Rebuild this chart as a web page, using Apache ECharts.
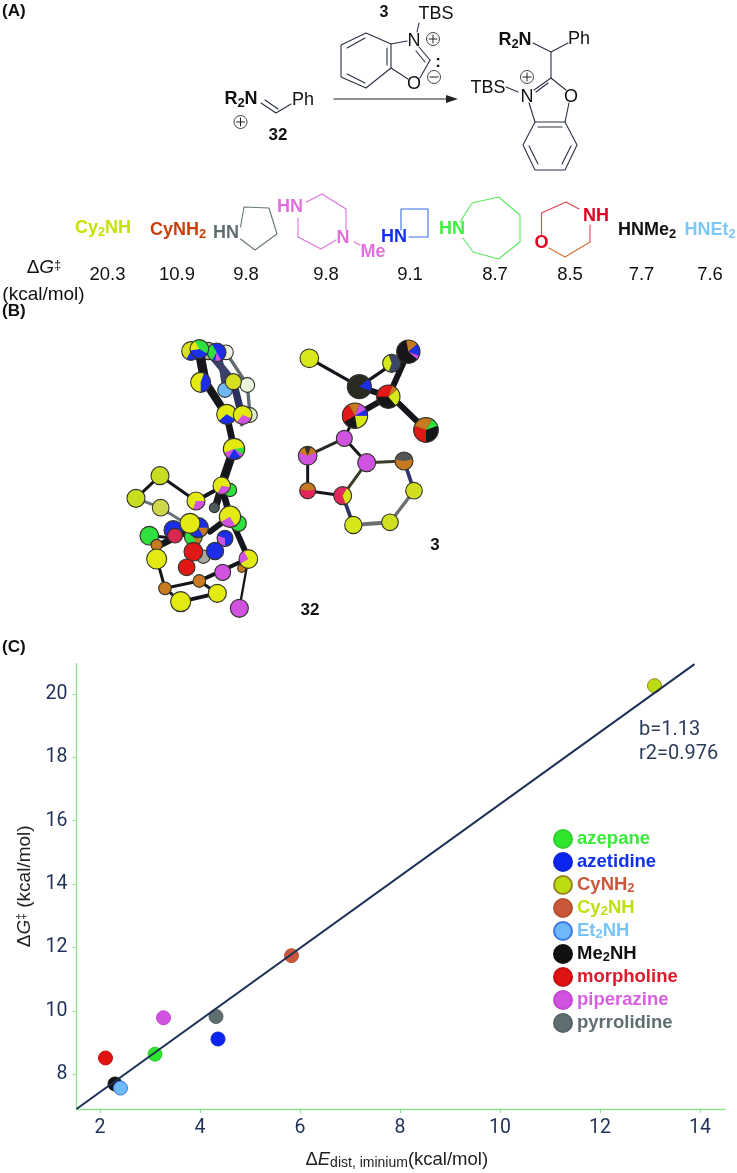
<!DOCTYPE html>
<html>
<head>
<meta charset="utf-8">
<title>Iminium distortion</title>
<script src="https://cdn.jsdelivr.net/npm/echarts@6/dist/echarts.min.js"></script>
<style>
  html, body { margin: 0; padding: 0; background: #fff; }
  #main { width: 737px; height: 1173px; }
</style>
</head>
<body>
<div id="main"></div>
<script>
// scatter data
const amines = ['azepane', 'azetidine', 'CyNH2', 'Cy2NH', 'Et2NH', 'Me2NH', 'morpholine', 'piperazine', 'pyrrolidine'];
const distortion = [3.10, 4.36, 13.09, 5.83, 2.41, 2.30, 2.11, 3.27, 4.32];
const barrier = [8.63, 9.11, 20.26, 11.74, 7.56, 7.69, 8.51, 9.78, 9.82];
const fitX = [1.53, 13.89];
const fitY = [6.90, 20.94];
const xTicks = [2, 4, 6, 8, 10, 12, 14];
const yTicks = [8, 10, 12, 14, 16, 18, 20];

// barrier row in panel A
const rowBarriers = ['20.3', '10.9', '9.8', '9.8', '9.1', '8.7', '8.5', '7.7', '7.6'];

const fillColors = ['#2fe62f', '#0c24f0', '#bcdc12', '#c9583a', '#6cb8f8', '#111111', '#e01212', '#d052e0', '#5f6e70'];
const edgeColors = ['#2fd02f', '#0c24d8', '#9a8420', '#b85030', '#3b78e8', '#111111', '#c81010', '#c048d0', '#556466'];
const legendLabels = [
  '{green|azepane}', '{blue|azetidine}', '{rust|CyNH}{rustSub|2}',
  '{lime|Cy}{limeSub|2}{lime|NH}', '{sky|Et}{skySub|2}{sky|NH}', '{black|Me}{blackSub|2}{black|NH}',
  '{red|morpholine}', '{pink|piperazine}', '{grey|pyrrolidine}'
];

const SANS = '"Liberation Sans", Arial, sans-serif';

function richColor(color) {
  return {color: color, fontFamily: SANS, fontWeight: 'bold', fontSize: 18.5, lineHeight: 20};
}
function richSub(color) {
  return {color: color, fontFamily: SANS, fontWeight: 'bold', fontSize: 13, lineHeight: 20, verticalAlign: 'bottom', padding: [6, 0, 0, 0]};
}
const legendRich = {};
[['green', '#38ea38'], ['blue', '#1030f0'], ['rust', '#c9583a'], ['lime', '#bce010'], ['sky', '#78c4f8'],
  ['black', '#111111'], ['red', '#e01a2a'], ['pink', '#d860e0'], ['grey', '#5f6e70']].forEach(c => {
  legendRich[c[0]] = richColor(c[1]);
  legendRich[c[0] + 'Sub'] = richSub(c[1]);
});

// ---- helpers for the drawn chemistry
let g = [];
function seg(points, color, width) {
  g.push({type: 'polyline', silent: true, shape: {points: points},
    style: {stroke: color || '#2a3040', lineWidth: width || 1.1, fill: null, lineCap: 'round', lineJoin: 'round'}});
}
function txt(x, y, text, size, color, weight, rich, align) {
  g.push({type: 'text', silent: true, x: x, y: y, style: {
    text: text, fontSize: size, fontFamily: SANS, fontWeight: weight || 'normal', fill: color || '#111',
    align: align || 'center', verticalAlign: 'middle', rich: rich
  }});
}
function charge(x, y, sign) {
  g.push({type: 'circle', silent: true, shape: {cx: x, cy: y, r: 6.5}, style: {stroke: '#333', lineWidth: 0.9, fill: '#fff'}});
  seg([[x - 4, y], [x + 4, y]], '#222', 1);
  if (sign === '+') seg([[x, y - 4], [x, y + 4]], '#222', 1);
}
function subRich(color, size, weight) {
  return {
    m: {fontSize: size, fontFamily: SANS, fontWeight: weight, fill: color, color: color, lineHeight: size + 3},
    s: {fontSize: size - 5, fontFamily: SANS, fontWeight: weight, fill: color, color: color, lineHeight: size + 3, verticalAlign: 'bottom'}
  };
}

// ball and stick: atom = [x, y, r, fill, overlays], overlay = [startDeg, endDeg, color]
function sticks(list, conv) {
  list.forEach(b => {
    const p = conv(b[0], b[1]), q = conv(b[2], b[3]);
    g.push({type: 'line', silent: true, shape: {x1: p[0], y1: p[1], x2: q[0], y2: q[1]},
      style: {stroke: b[5] || '#15151c', lineWidth: b[4] / 3 * 1.0, lineCap: 'round'}});
  });
}
function balls(list, conv) {
  list.forEach(a => {
    const p = conv(a[0], a[1]), r = a[2] / 3;
    g.push({type: 'circle', silent: true, shape: {cx: p[0], cy: p[1], r: r}, style: {fill: a[3]}});
    (a[4] || []).forEach(o => {
      g.push({type: 'sector', silent: true, shape: {cx: p[0], cy: p[1], r: r, r0: 0,
        startAngle: o[0] * Math.PI / 180, endAngle: o[1] * Math.PI / 180, clockwise: true}, style: {fill: o[2]}});
    });
    g.push({type: 'circle', silent: true, shape: {cx: p[0], cy: p[1], r: r}, style: {fill: 'none', stroke: '#33332a', lineWidth: 1.1}});
  });
}

// ---- panel letters
txt(2, 11, '(A)', 17, '#111', 'bold', null, 'left');
txt(2, 311, '(B)', 17, '#111', 'bold', null, 'left');
txt(2, 647, '(C)', 17, '#111', 'bold', null, 'left');

// ---- panel A, reaction
txt(384, 13, '3', 16, '#111', 'bold');
txt(436, 14, 'TBS', 18);
seg([[419, 23], [417, 32]]);
txt(414, 41, 'N', 18);
charge(433, 39, '+');
seg([[366, 33], [391, 44], [391, 68], [366, 88], [341, 77], [341, 45], [366, 33]]);
seg([[347, 48], [365, 38]]);
seg([[347, 74], [365, 83]]);
seg([[387, 48], [387, 65]]);
seg([[391, 44], [407, 41]]);
seg([[391, 68], [408, 79]]);
seg([[419, 47], [430, 60]]);
seg([[416, 51], [425, 62]]);
seg([[430, 60], [420, 78]]);
txt(414, 84, 'O', 18);
txt(438, 62, ':', 17, '#111', 'bold');
charge(434, 77, '-');

txt(241, 99, '{m|R}{s|2}{m|N}', 18, '#111', 'bold', subRich('#111', 18, 'bold'));
charge(240.5, 122, '+');
seg([[261, 103], [276, 113], [291, 104]]);
seg([[265, 100], [278, 109]]);
txt(303, 100, 'Ph', 18);
txt(278, 135, '32', 17, '#111', 'bold');

seg([[334, 99], [450, 99]], '#222', 1.2);
g.push({type: 'polygon', silent: true, shape: {points: [[458, 99], [446, 95], [446, 103]]}, style: {fill: '#222'}});

txt(515, 40, '{m|R}{s|2}{m|N}', 18, '#111', 'bold', subRich('#111', 18, 'bold'));
txt(579, 39, 'Ph', 18);
seg([[533, 43], [551, 52], [568, 43]]);
seg([[551, 52], [551, 78]]);
charge(527, 77, '+');
txt(488, 88, 'TBS', 18);
seg([[506, 87], [518, 92]]);
txt(527, 97, 'N', 18);
txt(571, 97, 'O', 18);
seg([[551, 78], [534, 90]]);
seg([[548, 83], [536, 92]]);
seg([[551, 78], [566, 90]]);
seg([[529, 103], [535, 122]]);
seg([[569, 103], [565, 122]]);
seg([[535, 122], [565, 122], [577, 145], [565, 170], [535, 170], [523, 145], [535, 122]]);
seg([[538, 127], [562, 127]]);
seg([[571, 146], [562, 164]]);
seg([[529, 146], [538, 164]]);

// ---- panel A, amine row
txt(103, 228, '{m|Cy}{s|2}{m|NH}', 18, '#c6e000', 'bold', subRich('#c6e000', 18, 'bold'));
txt(178, 230, '{m|CyNH}{s|2}', 18, '#c9400c', 'bold', subRich('#c9400c', 18, 'bold'));

txt(226, 233, 'HN', 18, '#5f6e70', 'bold');
seg([[240.5, 227], [244, 207], [269, 208], [277, 234], [255, 250], [240.5, 239]], '#66767a');

txt(290, 207, 'HN', 18, '#e070e0', 'bold');
txt(343, 238, 'N', 18, '#e070e0', 'bold');
txt(373, 252, 'Me', 18, '#e070e0', 'bold');
seg([[306.5, 202], [322, 194], [346, 209], [346, 230]], '#e070e0');
seg([[336, 240], [321, 249], [298, 237], [298, 218]], '#e070e0');
seg([[354, 242], [360, 245]], '#e070e0');

txt(394, 237, 'HN', 18, '#1030f0', 'bold');
seg([[401, 230], [401, 209], [428, 209], [428, 237], [409, 237]], '#3a70e8');

txt(452, 229, 'HN', 18, '#40ef40', 'bold');
seg([[460, 222], [472, 203], [498.5, 197], [520, 215], [520, 242], [498.5, 259], [473, 252], [463, 238]], '#5ae85a');

txt(596, 216, 'NH', 18, '#e00020', 'bold');
txt(541.5, 243, 'O', 18, '#e00020', 'bold');
seg([[541.5, 235], [541.5, 213], [566, 202], [579, 209]], '#e0404a');
seg([[590, 225], [590, 242]], '#e0404a');
seg([[590, 242], [565, 257], [549, 248]], '#d87030');

txt(647, 230, '{m|HNMe}{s|2}', 18, '#111', 'bold', subRich('#111', 18, 'bold'));
txt(710, 230, '{m|HNEt}{s|2}', 18, '#7cc8f8', 'bold', subRich('#7cc8f8', 18, 'bold'));

const rowCenters = [107.5, 177, 246, 326, 410, 495, 570, 641.5, 710];
rowBarriers.forEach((v, i) => txt(rowCenters[i], 275, v, 18.5, '#111'));
txt(44, 268, '{r|Δ}{i|G}{u|‡}', 19, '#111', 'normal', {
  r: {fontSize: 19, fontFamily: SANS, color: '#333'},
  i: {fontSize: 19, fontFamily: SANS, fontStyle: 'italic', color: '#111'},
  u: {fontSize: 13, fontFamily: SANS, color: '#111', verticalAlign: 'top'}
});
txt(43.5, 295, '(kcal/mol)', 19, '#111');

// ---- panel B, the two overlaid structures
const conv32 = (x, y) => [110 + x / 3, 325 + y / 3];
const Y = '#e2ea12', K = '#15151c', BL = '#1c2ee8', GR = '#2fe03f', MG = '#d052e0', OR = '#c87a20', RD = '#e01818';
sticks([
  [348, 82, 412, 180, 10, '#5f6a70'], [412, 180, 420, 270, 10, '#5f6a70'], [420, 270, 395, 300, 10, '#5f6a70'],
  [300, 85, 370, 170, 22, '#3a4268'], [370, 170, 395, 270, 22, '#2a3060'], [330, 100, 345, 190, 16, '#3a4268']
], conv32);
balls([
  [348, 82, 22, '#eef5dd'], [412, 180, 22, '#eaf5dc'], [420, 270, 22, '#dcecc0'], [295, 78, 26, '#b8b8b0']
], conv32);
sticks([
  [268, 80, 285, 170, 28], [285, 170, 350, 270, 24], [350, 270, 372, 370, 20], [372, 370, 335, 480, 26]
], conv32);
balls([
  [243, 78, 28, '#d4e020', [[30, 120, BL]]], [320, 82, 28, BL, [[120, 240, GR], [60, 100, MG]]], [268, 72, 28, GR, [[30, 170, BL], [170, 240, Y]]],
  [272, 172, 30, Y, [[-70, 90, BL]]], [345, 195, 22, '#6cb8f8'], [370, 170, 24, '#d4e020'],
  [350, 268, 30, Y, [[30, 140, BL]]], [398, 270, 28, Y, [[20, 130, MG]]],
  [372, 372, 32, Y, [[20, 160, MG], [50, 120, BL], [-10, 30, GR]]]
], conv32);
sticks([
  [150, 452, 258, 528, 9], [150, 452, 78, 520, 9], [78, 520, 152, 548, 9, '#6a7478'], [152, 548, 250, 610, 9, '#6a7478'],
  [258, 528, 335, 485, 12], [335, 485, 315, 550, 22, '#1a1a20'], [335, 485, 360, 575, 20],
  [118, 632, 200, 640, 9], [140, 665, 250, 610, 20], [140, 700, 165, 790, 9],
  [165, 790, 212, 830, 9], [212, 830, 322, 805, 12], [165, 790, 268, 768, 9], [268, 768, 415, 700, 12],
  [322, 805, 268, 768, 9], [360, 575, 415, 700, 18], [415, 700, 388, 850, 7], [230, 727, 250, 680, 14], [300, 620, 360, 575, 18]
], conv32);
balls([
  [150, 452, 27, '#c8dc20'], [78, 520, 27, '#c8dc20'], [152, 548, 25, '#cfd84a'], [360, 495, 20, GR],
  [258, 528, 27, Y, [[0, 110, MG]]], [335, 482, 26, Y, [[10, 120, MG]]], [313, 548, 15, '#4c5a5c'],
  [190, 615, 28, BL], [195, 632, 22, '#d82850'], [118, 632, 28, GR], [140, 660, 17, OR],
  [250, 635, 27, GR, [[20, 70, OR]]], [265, 608, 30, BL, [[0, 60, OR]]], [240, 595, 30, Y],
  [385, 595, 24, GR], [345, 640, 24, BL, [[90, 200, MG]]], [360, 575, 32, Y, [[60, 150, MG]]],
  [140, 702, 30, Y], [280, 695, 20, '#a8a8a0'], [315, 678, 26, BL], [250, 680, 28, RD], [230, 727, 25, RD],
  [395, 730, 12, OR], [415, 702, 28, Y, [[150, 240, MG]]], [338, 742, 24, MG],
  [268, 768, 19, OR], [165, 790, 19, OR], [212, 830, 30, Y], [322, 805, 27, Y], [388, 850, 27, MG]
], conv32);
txt(310, 610, '32', 17, '#111', 'bold');

const conv3 = (x, y) => [280 + x / 3, 325 + y / 3];
sticks([
  [335, 115, 360, 150, 8, '#333'], [88, 100, 238, 185, 10], [238, 185, 340, 115, 10], [238, 185, 325, 215, 18],
  [325, 215, 385, 80, 18], [325, 215, 225, 272, 18], [335, 215, 438, 315, 18], [225, 272, 193, 340, 9],
  [193, 340, 83, 392, 9, '#2a2a24'], [193, 340, 260, 413, 9], [83, 392, 83, 497, 9], [83, 497, 188, 512, 9],
  [260, 413, 188, 512, 9, '#3c3c28'], [260, 413, 372, 408, 9, '#3c3c28'], [372, 408, 402, 497, 11, '#2c3468'],
  [402, 497, 330, 592, 10, '#6a7072'], [330, 592, 220, 600, 12, '#6a7072'], [220, 600, 188, 512, 11, '#2c3468']
], conv3);
balls([
  [88, 100, 28, '#d6e81a'],
  [335, 115, 27, '#3c4668', [[110, 250, '#d6e81a']]],
  [385, 80, 35, '#16161a', [[-100, -40, OR], [-40, 20, BL], [20, 40, MG]]],
  [238, 185, 36, '#2a2a20', [[-40, 20, BL]]],
  [325, 215, 35, '#16161a', [[180, 290, RD], [-40, 50, '#d6e81a'], [-70, -40, OR]]],
  [225, 272, 38, '#16161a', [[150, 240, RD], [240, 290, OR], [-70, 0, MG], [0, 80, '#d6e81a'], [-30, 0, BL]]],
  [438, 315, 37, '#16161a', [[90, 200, RD], [200, 300, OR], [-60, -20, GR]]],
  [193, 340, 24, MG],
  [83, 392, 28, MG, [[200, 340, OR], [250, 290, '#333']]],
  [83, 497, 24, '#e0285a', [[190, 350, OR]]],
  [188, 512, 27, '#e0285a', [[-60, 70, '#d6e81a']]],
  [260, 413, 27, MG],
  [372, 408, 27, OR, [[190, 350, '#555']]],
  [402, 497, 25, '#d0e020'], [330, 592, 25, '#d0e020'], [220, 600, 26, '#d6e81a']
], conv3);
txt(435, 545, '3', 17, '#111', 'bold');

// ---- panel C notes
[['b=1.13', 730], ['r2=0.976', 754]].forEach(n => {
  g.push({type: 'text', silent: true, x: 639, y: n[1], style: {
    text: n[0], fontSize: 20, fontFamily: 'Roboto', fill: '#2c3c5c', align: 'left', verticalAlign: 'middle'
  }});
});

// ---- chart series
const series = amines.map((name, i) => ({
  name: name,
  type: 'scatter',
  z: name === 'Et2NH' ? 3 : 2,
  symbol: 'circle',
  symbolSize: 14,
  itemStyle: {color: fillColors[i], borderColor: edgeColors[i], borderWidth: 1, opacity: 1},
  data: [[distortion[i], barrier[i]]]
}));
series.push({
  name: 'fit',
  type: 'line',
  z: 2.5,
  symbol: 'none',
  lineStyle: {color: '#1c2f55', width: 2},
  data: fitX.map((x, i) => [x, fitY[i]])
});

const axisColor = '#8fe28f';
const labelStyle = {fontFamily: 'Roboto', fontSize: 19.5, color: '#1f3158', margin: 9};

const chart = echarts.init(document.getElementById('main'));
chart.setOption({
  animation: false,
  backgroundColor: '#fff',
  grid: {left: 76.5, top: 663.5, width: 648.5, height: 445.5, containLabel: false},
  legend: {
    data: amines.map(n => ({name: n, icon: 'circle'})),
    orient: 'vertical', left: 553, top: 829, padding: 0,
    itemWidth: 18, itemHeight: 18, itemGap: 3,
    selectedMode: false,
    formatter: name => legendLabels[amines.indexOf(name)],
    textStyle: {rich: legendRich}
  },
  xAxis: {
    type: 'value', min: 1.53, max: 14.5, splitLine: {show: false},
    axisLine: {lineStyle: {color: axisColor, width: 1.3}},
    axisTick: {length: 4, lineStyle: {color: axisColor, width: 1}, customValues: xTicks},
    axisLabel: Object.assign({customValues: xTicks}, labelStyle),
    name: '{r|Δ}{i|E}{s|dist, iminium}{r|(kcal/mol)}',
    nameLocation: 'middle', nameGap: 41,
    nameTextStyle: {padding: [0, 8, 0, 0], rich: {
      r: {fontFamily: SANS, fontSize: 18.5, color: '#222'},
      i: {fontFamily: SANS, fontSize: 18.5, fontStyle: 'italic', color: '#222'},
      s: {fontFamily: SANS, fontSize: 14, color: '#222', verticalAlign: 'bottom', padding: [6, 0, 0, 0]}
    }}
  },
  yAxis: {
    type: 'value', min: 6.9, max: 20.96, splitLine: {show: false},
    axisLine: {lineStyle: {color: axisColor, width: 1.3}},
    axisTick: {length: 4, lineStyle: {color: axisColor, width: 1}, customValues: yTicks},
    axisLabel: Object.assign({customValues: yTicks}, labelStyle),
    name: '{r|Δ}{i|G}{u|‡}{r| (kcal/mol)}',
    nameLocation: 'middle', nameGap: 40,
    nameTextStyle: {rich: {
      r: {fontFamily: SANS, fontSize: 19, color: '#222'},
      i: {fontFamily: SANS, fontSize: 19, fontStyle: 'italic', color: '#222'},
      u: {fontFamily: SANS, fontSize: 12, color: '#222', verticalAlign: 'top'}
    }}
  },
  graphic: {elements: g},
  series: series
});
</script>
</body>
</html>
